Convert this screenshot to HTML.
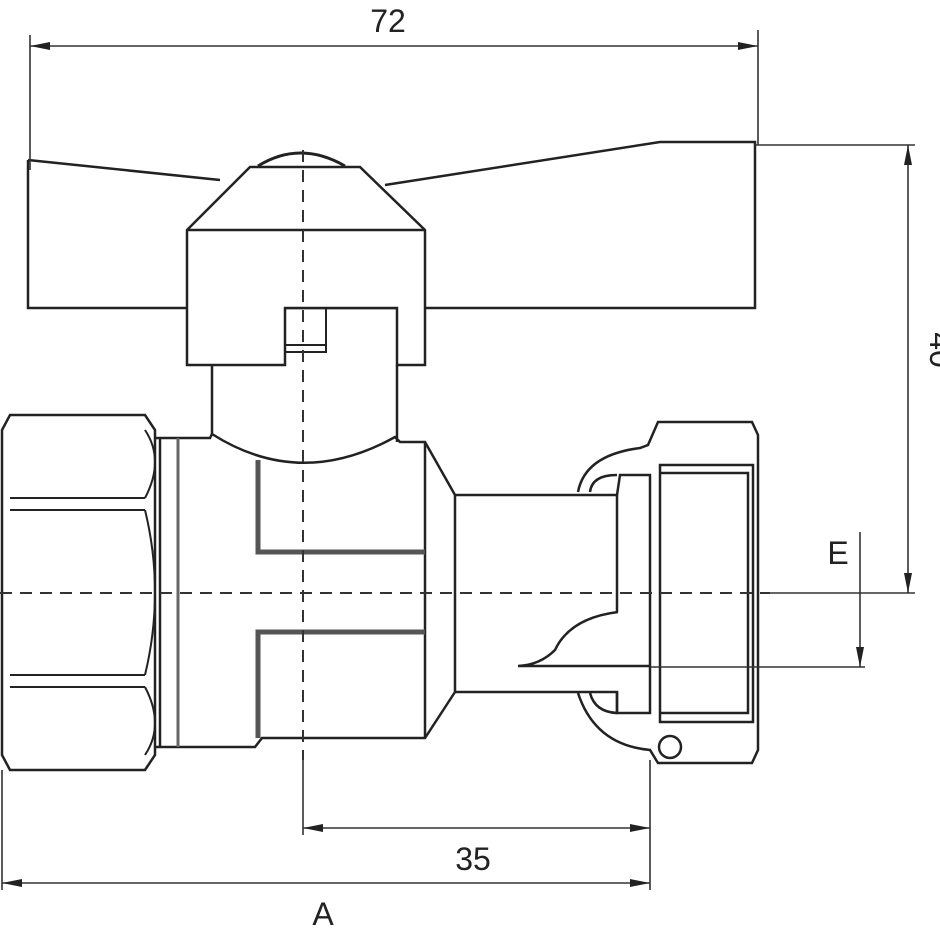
<!DOCTYPE html>
<html><head><meta charset="utf-8"><style>html,body{margin:0;padding:0;background:#fff}svg{display:block}</style></head>
<body>
<svg width="940" height="940" viewBox="0 0 940 940" xmlns="http://www.w3.org/2000/svg" font-family="Liberation Sans, sans-serif">
<defs>
<marker id="ar" viewBox="0 0 20 10" refX="20" refY="5" markerWidth="20" markerHeight="10" markerUnits="userSpaceOnUse" orient="auto-start-reverse"><path d="M0,1 L20,5 L0,9 Z" fill="#222"/></marker>
</defs>
<g fill="none" stroke="#222" stroke-width="2.5">
<!-- handle -->
<path d="M28,160 L220,180 M385,185 L660,142 L755,142 L755,308 L28,308 L28,160"/>
<!-- cap -->
<path d="M258,166 Q300,140 345,166" stroke-width="3"/>
<path d="M250,167 L360,167 L425,230 L425,365 L397,365 L397,308 L285,308 L285,365 L187,365 L187,230 Z" fill="#fff"/>
<path d="M187,230 L425,230"/>
<path d="M397,365 L397,442"/>
<path d="M285,308 L326,308 L326,352 L285,352 M285,345 L326,345" stroke-width="2"/>
<path d="M212,365 L212,434"/>
<!-- hex nut -->
<path d="M10,415 L145,415 L155,430 L155,755 L145,770 L10,770 L2,755 L2,430 Z"/>
<path d="M10,498 L145,498 M10,510 L145,510 M10,675 L145,675 M10,687 L145,687" stroke-width="2"/>
<path d="M145,430 Q165,460 145,498 M145,510 Q165,592 145,675 M145,687 Q165,725 145,755" stroke-width="2"/>
<!-- neck & body -->
<path d="M155,438 L210,438 L212,434 Q300,490 395,437 L400,442 L425,442 L455,495 M155,747 L255,747 L262,738 L425,738 L455,692"/>
<path d="M160,438 L160,747 M425,442 L425,738"/>
<path d="M178,438 L178,747" stroke="#666" stroke-width="3"/>
<path d="M258,460 L258,552 L425,552 M425,632 L258,632 L258,738" stroke="#555" stroke-width="5"/>
<!-- right neck & union -->
<path d="M455,495 L455,692 M455,495 L617,495 L617,612 M455,692 L617,692 L617,713"/>
<path d="M617,495 L620,475 L650,475 L650,713 L617,713 L617,692"/>
<path d="M578,492 Q585,455 640,448 L648,445 L658,422 L752,422 L758,435 L758,750 L752,763 L658,763 L650,750 Q595,745 578,693"/>
<circle cx="670" cy="747" r="11"/>
<path d="M590,492 Q592,475 617,475"/>
<path d="M590,693 Q595,712 617,713"/>
<path d="M660,465 L753,465 L753,722 L660,722 Z M660,473 L748,473 L748,713 L660,713"/>
<path d="M618,612 Q570,618 555,650 Q540,665 518,666 L650,666"/>
</g>
<!-- centerlines -->
<g stroke="#333" stroke-width="2" stroke-dasharray="12,8" fill="none">
<path d="M0,593 L770,593"/>
<path d="M303,150 L303,760"/>
</g>
<!-- dimension lines -->
<g stroke="#333" stroke-width="1.6" fill="none">
<path d="M30,35 L30,170 M758,30 L758,145"/>
<path d="M30,46 L758,46" marker-start="url(#ar)" marker-end="url(#ar)"/>
<path d="M755,145 L915,145 M770,593 L915,593"/>
<path d="M908,145 L908,593" marker-start="url(#ar)" marker-end="url(#ar)"/>
<path d="M650,667 L865,667"/>
<path d="M860,532 L860,667" marker-end="url(#ar)"/>
<path d="M303,760 L303,835 M650,760 L650,890 M2,770 L2,890"/>
<path d="M303,828 L650,828" marker-start="url(#ar)" marker-end="url(#ar)"/>
<path d="M2,883 L650,883" marker-start="url(#ar)" marker-end="url(#ar)"/>
</g>
<g fill="#222" font-size="32">
<text x="388" y="32" text-anchor="middle">72</text>
<text x="473" y="870" text-anchor="middle">35</text>
<text x="323" y="925" text-anchor="middle">A</text>
<text x="838" y="564" text-anchor="middle">E</text>
<text x="0" y="0" text-anchor="middle" transform="translate(930,350) rotate(90)">40</text>
</g>
</svg>
</body></html>
